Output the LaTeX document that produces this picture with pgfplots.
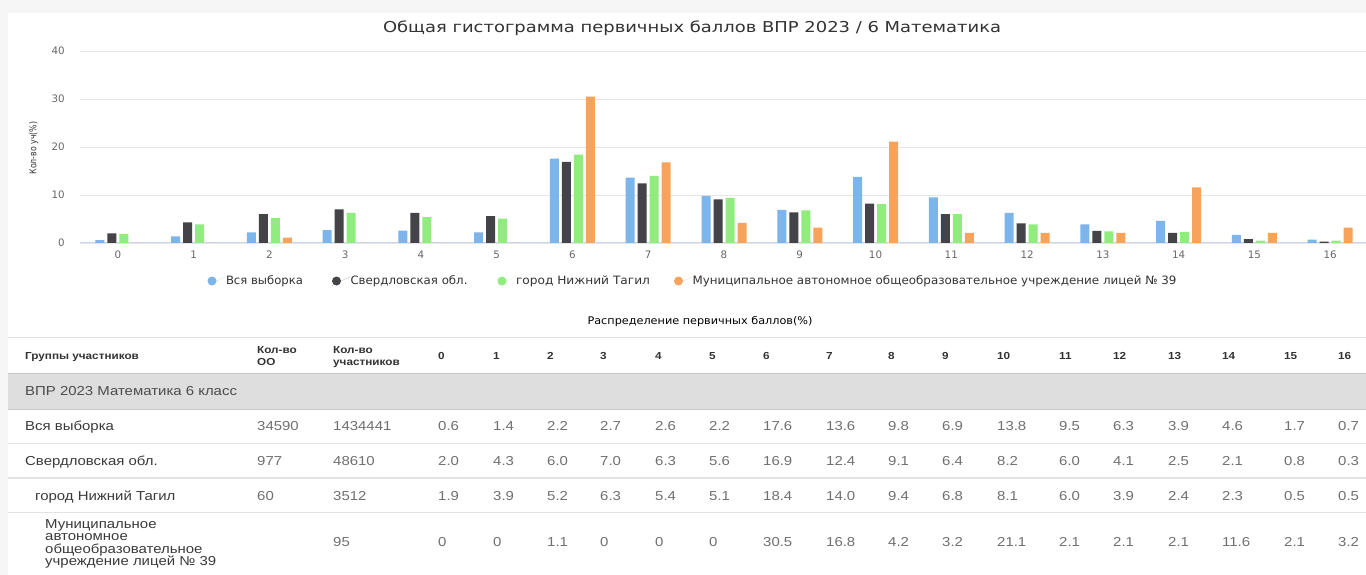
\documentclass[border=0pt]{standalone}
\usepackage{pgfplots}
\usepackage{pgfplotstable}
\pgfplotsset{compat=1.18}
\usepackage{fontspec}
\setmainfont{Liberation Sans}
\newfontfamily\chartfont{DejaVu Sans}
\newfontfamily\tabfont[FakeStretch=1.15]{Liberation Sans}
\definecolor{hcblue}{HTML}{7CB5EC}
\definecolor{hcdark}{HTML}{434348}
\definecolor{hcgreen}{HTML}{90ED7D}
\definecolor{hcorange}{HTML}{F7A35C}
\definecolor{gridc}{HTML}{E6E6E6}
\definecolor{axisc}{HTML}{CCD6EB}
\definecolor{tickc}{HTML}{666666}
\definecolor{titlec}{HTML}{333333}
\definecolor{bgc}{HTML}{F6F6F6}
\definecolor{bandc}{HTML}{DEDEDE}
\definecolor{bandline}{HTML}{C8C8C8}
\definecolor{sepc}{HTML}{E2E2E2}
\definecolor{namec}{HTML}{3A3A3A}
\definecolor{numc}{HTML}{707070}

\pgfplotstableread{
x all sverd tagil lyc
0 0.6 2.0 1.9 0
1 1.4 4.3 3.9 0
2 2.2 6.0 5.2 1.1
3 2.7 7.0 6.3 0
4 2.6 6.3 5.4 0
5 2.2 5.6 5.1 0
6 17.6 16.9 18.4 30.5
7 13.6 12.4 14.0 16.8
8 9.8 9.1 9.4 4.2
9 6.9 6.4 6.8 3.2
10 13.8 8.2 8.1 21.1
11 9.5 6.0 6.0 2.1
12 6.3 4.1 3.9 2.1
13 3.9 2.5 2.4 2.1
14 4.6 2.1 2.3 11.6
15 1.7 0.8 0.5 2.1
16 0.7 0.3 0.5 3.2
}\data

\pgfplotsset{
  circlegend/.style={legend image code/.code={
    \path (0pt,-4.5pt) -- (18.5pt,4.5pt);
    \fill[##1] (4.5pt,0pt) circle (4.5pt);}},
}

\begin{document}
\begin{tikzpicture}[x=1pt,y=1pt,
  hd/.style={anchor=base west, inner sep=0pt, font=\tabfont\bfseries\fontsize{10.2}{10}\selectfont, text=titlec},
  tv/.style={anchor=base west, inner sep=0pt, font=\tabfont\fontsize{13}{13}\selectfont, text=numc},
  tn/.style={anchor=base west, inner sep=0pt, font=\tabfont\fontsize{13}{13}\selectfont, text=namec}]
\path[use as bounding box] (0,0) rectangle (1366,575);
\fill[bgc] (0,0) rectangle (1366,575);
\fill[white] (8,0) rectangle (1366,562);

\begin{axis}[
  at={(80pt,332pt)}, anchor=south west,
  scale only axis, width=1288pt, height=192pt,
  xmin=-0.5, xmax=16.5, ymin=0, ymax=40,
  ybar=3pt, bar width=9pt,
  xtick={0,...,16}, ytick={0,10,20,30,40},
  major tick length=0pt,
  axis x line*=bottom, axis y line*=left,
  x axis line style={axisc, line width=1pt},
  y axis line style={draw=none},
  ymajorgrids, grid style={gridc, line width=0.8pt},
  /pgf/number format/assume math mode=true,
  ticklabel style={font=\chartfont\fontsize{10.3}{10}\selectfont, text=tickc, inner sep=0pt},
  yticklabel shift=15pt, xticklabel shift=8pt,
  title={\chartfont\fontsize{15}{15}\selectfont\resizebox{618pt}{\height}{Общая гистограмма первичных баллов ВПР 2023 / 6 Математика}},
  title style={at={(0.4752,1.0885)}, anchor=center, text=titlec, inner sep=0pt},
  ylabel={\chartfont\fontsize{9.5}{9.5}\selectfont\resizebox{53pt}{\height}{Кол-во уч(\%)}},
  ylabel style={at={(-0.0360,0.4948)}, anchor=center, text=titlec, inner sep=0pt},
  xlabel={\chartfont\fontsize{10.5}{10.5}\selectfont\resizebox{225pt}{\height}{Распределение первичных баллов(\%)}},
  xlabel style={at={(0.4814,-0.411)}, anchor=center, text=black, inner sep=0pt},
  legend columns=4,
  legend cell align=left,
  legend style={draw=none, fill=none, inner sep=0pt, outer sep=0pt, column sep=0pt,
    nodes={inner sep=0pt}, at={(0.0990,-0.198)}, anchor=west,
    font=\chartfont\fontsize{11.5}{11.5}\selectfont, text=titlec},
]
\addplot[fill=hcblue, draw=none, circlegend] table[x=x, y=all] {\data};
\addlegendentry{\resizebox{77pt}{\height}{Вся выборка}\hspace*{29pt}}
\addplot[fill=hcdark, draw=none, circlegend] table[x=x, y=sverd] {\data};
\addlegendentry{\resizebox{117pt}{\height}{Свердловская обл.}\hspace*{30pt}}
\addplot[fill=hcgreen, draw=none, circlegend] table[x=x, y=tagil] {\data};
\addlegendentry{\resizebox{134pt}{\height}{город Нижний Тагил}\hspace*{24pt}}
\addplot[fill=hcorange, draw=none, circlegend] table[x=x, y=lyc] {\data};
\addlegendentry{\resizebox{484pt}{\height}{Муниципальное автономное общеобразовательное учреждение лицей № 39}}
\end{axis}

% table
\draw[sepc, line width=1pt] (8,237) -- (1366,237);
\fill[bandc] (8,166) rectangle (1366,201);
\draw[bandline, line width=1pt] (8,201) -- (1366,201);
\draw[bandline, line width=0.8pt] (8,166) -- (1366,166);
\draw[sepc, line width=1pt] (8,131) -- (1366,131);
\draw[sepc, line width=1.5pt] (8,97) -- (1366,97);
\draw[sepc, line width=1pt] (8,62) -- (1366,62);

\node[hd] at (25,215) {Группы участников};
\node[hd] at (257,221) {Кол-во};
\node[hd] at (257,209) {ОО};
\node[hd] at (333,221) {Кол-во};
\node[hd] at (333,209) {участников};

\node[tn, text=black!70] at (25,179.5) {ВПР 2023 Математика 6 класс};

\node[tn] at (25,144.5) {Вся выборка};
\node[tn] at (25,109.5) {Свердловская обл.};
\node[tn] at (35,74.5) {город Нижний Тагил};
\node[tn] at (45,46.5) {Муниципальное};
\node[tn] at (45,34) {автономное};
\node[tn] at (45,21.5) {общеобразовательное};
\node[tn] at (45,9) {учреждение лицей № 39};

\node[tv] at (257,144.5) {34590};
\node[tv] at (257,109.5) {977};
\node[tv] at (257,74.5) {60};
\node[tv] at (333,144.5) {1434441};
\node[tv] at (333,109.5) {48610};
\node[tv] at (333,74.5) {3512};
\node[tv] at (333,28.5) {95};

\foreach \c/\xx in {0/438,1/493,2/547,3/600,4/655,5/709,6/763,7/826,8/888,9/942,10/997,11/1059,12/1113,13/1168,14/1222,15/1284,16/1338}{
  \node[hd] at (\xx,215) {\c};
  \foreach \col/\yy in {all/144.5,sverd/109.5,tagil/74.5,lyc/28.5}{
    \pgfplotstablegetelem{\c}{\col}\of\data
    \node[tv] at (\xx,\yy) {\pgfplotsretval};
  }
}
\end{tikzpicture}
\end{document}
